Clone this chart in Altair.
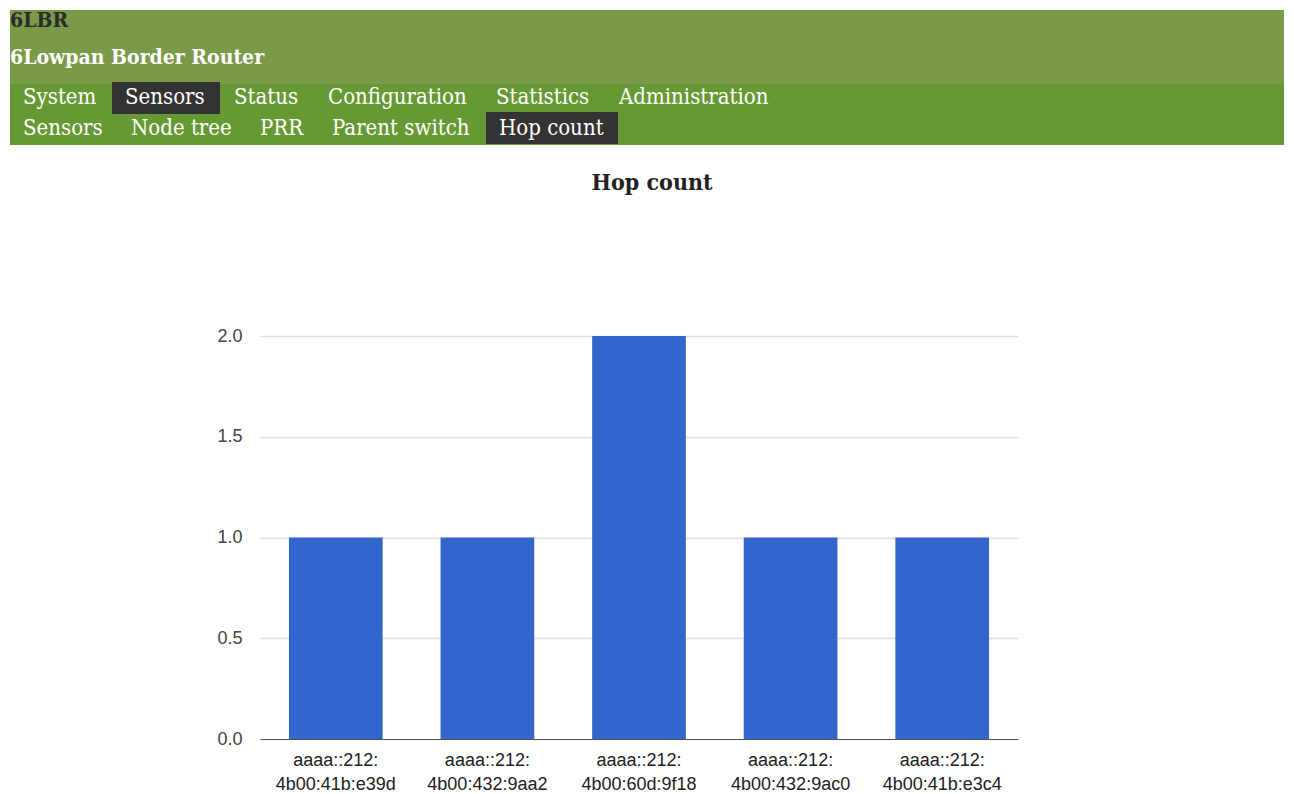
import altair as alt
import pandas as pd

# ---- data ----
nodes = [
    "aaaa::212:4b00:41b:e39d",
    "aaaa::212:4b00:432:9aa2",
    "aaaa::212:4b00:60d:9f18",
    "aaaa::212:4b00:432:9ac0",
    "aaaa::212:4b00:41b:e3c4",
]
hops = [1, 1, 2, 1, 1]
y_ticks = [0, 0.5, 1, 1.5, 2]

menu_top = ["System", "Sensors", "Status", "Configuration", "Statistics", "Administration"]
menu_sub = ["Sensors", "Node tree", "PRR", "Parent switch", "Hop count"]

# ---- layout (page chrome, pixel offsets relative to plot origin) ----
OX, OY = 260, 336  # plot origin on page
W, H = 758, 403
menu_top_x = [23, 125, 234, 328, 496, 619]
menu_sub_x = [23, 131, 260, 332, 499]
SERIF = "DejaVu Serif Condensed, DejaVu Serif"
SANS = "Liberation Sans, Arial"

df = pd.DataFrame({"node": nodes, "hops": hops})

one = pd.DataFrame({"k": [0]})


def rect(x1, y1, x2, y2, color):
    return alt.Chart(one).mark_rect(color=color).encode(
        x=alt.value(x1 - OX), x2=alt.value(x2 - OX),
        y=alt.value(y1 - OY), y2=alt.value(y2 - OY),
    )


def text(t, x, y, size, color, bold=False, align="left", font=SERIF):
    return alt.Chart(one).mark_text(
        text=t, align=align, baseline="middle", font=font, fontSize=size,
        color=color, fontWeight="bold" if bold else "normal",
    ).encode(x=alt.value(x - OX), y=alt.value(y - OY))


layers = [
    rect(10, 10, 1284, 84, "#799a48"),
    rect(10, 84, 1284, 145, "#669933"),
    rect(112, 82, 220, 114, "#333333"),
    rect(486, 112, 618, 144, "#333333"),
    text("6LBR", 10, 21, 21, "#2b2b2b", bold=True),
    text("6Lowpan Border Router", 10, 58, 21, "#ffffff", bold=True),
]
for lbl, x in zip(menu_top, menu_top_x):
    layers.append(text(lbl, x, 97, 22, "#ffffff"))
for lbl, x in zip(menu_sub, menu_sub_x):
    layers.append(text(lbl, x, 128, 22, "#ffffff"))
layers.append(text("Hop count", 652, 183, 23, "#222222", bold=True, align="center"))

bars = alt.Chart(df).mark_bar(color="#3366cc").encode(
    x=alt.X(
        "node:N", sort=nodes, title=None,
        scale=alt.Scale(paddingInner=0.382, paddingOuter=0.191),
        axis=alt.Axis(
            labelAngle=0, ticks=False, domainColor="#555555", domainWidth=1.2,
            labelFont=SANS, labelFontSize=18, labelColor="#222222",
            labelPadding=12, labelLineHeight=24,
            labelExpr="[slice(datum.label, 0, 10), slice(datum.label, 10)]",
        ),
    ),
    y=alt.Y(
        "hops:Q", title=None,
        scale=alt.Scale(domain=[0, 2], nice=False),
        axis=alt.Axis(
            values=y_ticks, format=".1f", ticks=False, domain=False,
            gridColor="#e0e0e0", gridWidth=1.3,
            labelFont=SANS, labelFontSize=18, labelColor="#444444", labelPadding=18,
        ),
    ),
)

chart = alt.layer(*layers, bars).properties(
    width=W, height=H,
    padding={"left": 2, "top": 2, "right": 2, "bottom": 2},
).configure_view(stroke=None)

chart.save("out.html", embed_options={"renderer": "svg", "actions": False})
